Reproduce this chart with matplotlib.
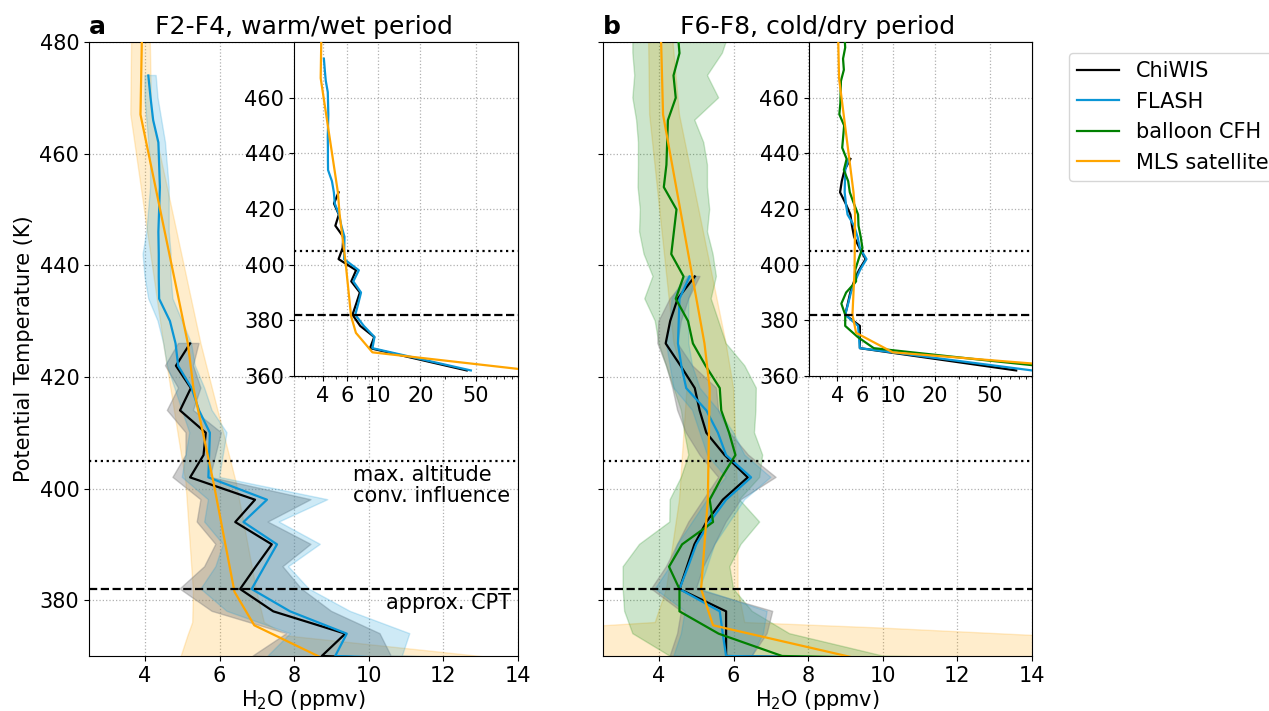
import numpy as np
import matplotlib
matplotlib.use('Agg')
import matplotlib.pyplot as plt
from matplotlib.ticker import FixedLocator, NullFormatter, ScalarFormatter, LogLocator
from matplotlib.lines import Line2D

plt.rcParams['font.family'] = ['DejaVu Sans']
plt.rcParams['font.size'] = 15

# ---------------- Panel a: F2-F4, warm/wet period ----------------
chi_a_theta = [426, 422, 418, 414, 410, 406, 402, 398, 394, 390, 386, 382, 378, 374, 370, 362]
chi_a_mean = [5.21, 4.83, 5.23, 4.94, 5.63, 5.57, 5.21, 6.95, 6.42, 7.40, 6.97, 6.55, 7.44, 9.37, 8.74, 43]
chi_a_lo = [4.9, 4.55, 4.9, 4.6, 5.1, 5.1, 4.75, 5.5, 5.4, 5.9, 5.6, 4.94, 5.8, 7.8, 6.9, 30]
chi_a_hi = [5.45, 5.3, 5.5, 5.3, 6.05, 5.9, 5.75, 8.45, 7.3, 8.45, 7.7, 8.2, 9.0, 10.3, 10.6, 60]

fla_a_theta = [474, 470, 466, 462, 458, 454, 450, 446, 442, 438, 434, 430, 426, 422, 418, 414,
               410, 406, 402, 398, 394, 390, 386, 382, 378, 374, 370, 362]
fla_a_mean = [4.09, 4.15, 4.22, 4.36, 4.38, 4.40, 4.38, 4.36, 4.37, 4.37, 4.38, 4.67, 4.82, 4.89,
              5.25, 5.45, 5.74, 5.72, 5.70, 7.27, 6.64, 7.54, 7.2, 6.86, 7.89, 9.41, 9.10, 46]
fla_a_lo = [4.0, 4.0, 4.05, 4.1, 4.15, 4.15, 4.1, 4.05, 3.95, 4.0, 4.1, 4.35, 4.5, 4.6, 4.8, 5.0,
            5.2, 5.1, 5.0, 5.7, 5.6, 6.1, 5.9, 5.5, 6.2, 7.9, 7.3, 35]
fla_a_hi = [4.3, 4.35, 4.45, 4.55, 4.6, 4.65, 4.65, 4.65, 4.7, 4.7, 4.75, 5.0, 5.25, 5.35, 5.6, 5.8,
            6.2, 6.1, 6.0, 8.9, 7.6, 8.7, 7.85, 8.4, 9.5, 11.1, 10.9, 60]

mls_a_theta = [485, 467, 426, 418, 401, 381.5, 375.5, 368.5, 362]
mls_a_mean = [3.93, 3.88, 5.15, 5.30, 5.84, 6.40, 6.93, 9.1, 125]
mls_a_band_theta = [485, 467, 426, 401, 381.5, 376, 373.6, 368.5, 362]
mls_a_lo = [3.65, 3.62, 4.5, 5.1, 5.3, 5.28, 5.15, 4.9, 4.5]
mls_a_hi = [4.13, 4.18, 5.5, 6.45, 7.0, 7.2, 7.8, 15.0, 40]

# ---------------- Panel b: F6-F8, cold/dry period ----------------
chi_b_theta = [438, 434, 430, 426, 422, 418, 414, 410, 406, 402, 398, 394, 390, 386, 382, 378, 374, 370, 362]
chi_b_mean = [4.96, 4.50, 4.30, 4.18, 4.58, 4.96, 5.09, 5.27, 5.76, 6.38, 5.71, 5.27, 4.95, 4.75,
              4.55, 5.80, 5.80, 5.80, 77]
chi_b_lo = [4.8, 4.3, 4.0, 3.97, 4.2, 4.37, 4.5, 4.73, 5.1, 5.6, 5.2, 4.8, 4.5, 4.2, 3.80, 4.6, 4.5, 4.3, 50]
chi_b_hi = [5.1, 4.8, 4.6, 4.5, 4.9, 5.54, 5.6, 5.9, 6.4, 7.14, 6.2, 5.8, 5.5, 5.2, 5.0, 7.05, 6.9, 6.5, 100]

fla_b_theta = [438, 434, 430, 426, 422, 418, 414, 410, 406, 402, 398, 394, 390, 386, 382, 378, 374, 370, 362]
fla_b_mean = [4.82, 4.55, 4.53, 4.51, 4.60, 4.73, 5.27, 5.58, 5.80, 6.47, 5.80, 5.36, 5.00, 4.78,
              4.55, 5.63, 5.71, 5.80, 100]
fla_b_lo = [4.7, 4.35, 4.3, 4.2, 4.3, 4.4, 4.9, 5.1, 5.3, 5.8, 5.3, 4.9, 4.5, 4.3, 3.9, 4.7, 4.6, 4.4, 70]
fla_b_hi = [5.0, 4.8, 4.8, 4.8, 4.9, 5.1, 5.6, 6.0, 6.3, 7.0, 6.3, 5.9, 5.5, 5.3, 5.1, 6.9, 6.8, 6.5, 130]

cfh_b_theta = [482, 478, 474, 470, 466, 462, 458, 454, 450, 446, 442, 438, 434, 430, 426, 422,
               418, 414, 410, 406, 402, 398, 394, 390, 386, 382, 378, 374, 370, 366, 362]
cfh_b_mean = [4.5, 4.55, 4.39, 4.45, 4.24, 4.22, 4.2, 4.13, 4.47, 4.40, 4.33, 4.66, 4.45, 4.78,
              4.91, 5.25, 5.63, 5.67, 5.88, 6.05, 5.68, 5.36, 5.45, 4.62, 4.27, 4.55, 4.55, 5.6,
              7.3, 40, 230]
cfh_b_lo = [3.3, 3.3, 3.35, 3.3, 3.4, 3.45, 3.45, 3.44, 3.5, 3.48, 3.6, 3.84, 3.62, 3.9, 4.0, 4.2,
            4.4, 4.6, 4.69, 4.8, 4.6, 4.3, 4.29, 3.48, 3.04, 3.04, 3.08, 3.3, 4.29, 8, 30]
cfh_b_hi = [5.9, 5.7, 5.3, 5.6, 4.96, 5.2, 5.3, 5.3, 5.36, 5.3, 5.45, 5.54, 5.4, 5.6, 5.8, 6.3,
            6.61, 6.6, 6.56, 6.78, 6.7, 6.16, 6.70, 6.2, 5.9, 6.0, 6.5, 7.5, 10.0, 40, 150]

mls_b_theta = [482, 467, 426, 418, 398, 382, 375.5, 368.5, 362]
mls_b_mean = [4.05, 4.11, 5.22, 5.36, 5.31, 5.13, 5.45, 10.0, 420]
mls_b_band_theta = [482, 467, 426, 418, 398, 382, 376, 375, 368.5, 362]
mls_b_lo = [3.72, 3.75, 4.4, 4.75, 4.55, 4.2, 3.9, 1.5, 0.0, 0.0]
mls_b_hi = [4.35, 4.55, 5.8, 6.0, 6.12, 6.12, 6.3, 10.0, 30.0, 100]

max_conv_theta = 405
cpt_theta = 382

c_chi = 'black'
c_fla = '#0a96d6'
c_cfh = 'green'
c_mls = 'orange'

fig = plt.figure(figsize=(12.69, 7.11), dpi=100)
W, H = 1269, 711
axa = fig.add_axes([89 / W, 55 / H, 429 / W, 614 / H])
axb = fig.add_axes([603 / W, 55 / H, 429 / W, 614 / H], sharey=axa)
insa = fig.add_axes([294 / W, 335 / H, 224 / W, 334 / H])
insb = fig.add_axes([809 / W, 335 / H, 223 / W, 334 / H])

lw = 1.6
fs = 15


def band(ax, th, lo, hi, color, alpha):
    ax.fill_betweenx(th, lo, hi, color=color, alpha=alpha, lw=1, zorder=1)


# Panel a main
band(axa, mls_a_band_theta, mls_a_lo, mls_a_hi, c_mls, 0.2)
band(axa, chi_a_theta, chi_a_lo, chi_a_hi, 'grey', 0.4)
band(axa, fla_a_theta, fla_a_lo, fla_a_hi, c_fla, 0.2)
axa.plot(chi_a_mean, chi_a_theta, color=c_chi, lw=lw, zorder=3)
axa.plot(fla_a_mean, fla_a_theta, color=c_fla, lw=lw, zorder=3)
axa.plot(mls_a_mean, mls_a_theta, color=c_mls, lw=lw, zorder=3)

# Panel b main
band(axb, mls_b_band_theta, mls_b_lo, mls_b_hi, c_mls, 0.2)
band(axb, cfh_b_theta, cfh_b_lo, cfh_b_hi, c_cfh, 0.2)
band(axb, chi_b_theta, chi_b_lo, chi_b_hi, 'grey', 0.4)
band(axb, fla_b_theta, fla_b_lo, fla_b_hi, c_fla, 0.2)
axb.plot(chi_b_mean, chi_b_theta, color=c_chi, lw=lw, zorder=3)
axb.plot(fla_b_mean, fla_b_theta, color=c_fla, lw=lw, zorder=3)
axb.plot(cfh_b_mean, cfh_b_theta, color=c_cfh, lw=lw, zorder=3)
axb.plot(mls_b_mean, mls_b_theta, color=c_mls, lw=lw, zorder=3)

# Insets
insa.plot(chi_a_mean, chi_a_theta, color=c_chi, lw=lw, zorder=3)
insa.plot(fla_a_mean, fla_a_theta, color=c_fla, lw=lw, zorder=3)
insa.plot(mls_a_mean, mls_a_theta, color=c_mls, lw=lw, zorder=3)
insb.plot(chi_b_mean, chi_b_theta, color=c_chi, lw=lw, zorder=3)
insb.plot(fla_b_mean, fla_b_theta, color=c_fla, lw=lw, zorder=3)
insb.plot(cfh_b_mean, cfh_b_theta, color=c_cfh, lw=lw, zorder=3)
insb.plot(mls_b_mean, mls_b_theta, color=c_mls, lw=lw, zorder=3)

for ax in (axa, axb):
    ax.set_xlim(2.5, 14)
    ax.set_ylim(370, 480)
    ax.set_xticks([4, 6, 8, 10, 12, 14])
    ax.set_yticks([380, 400, 420, 440, 460, 480])
    ax.grid(True, linestyle=':', color='#b0b0b0', lw=0.9)
    ax.set_axisbelow(True)
    ax.set_xlabel('H$_2$O (ppmv)', fontsize=fs, labelpad=2)
    ax.tick_params(labelsize=fs)
    ax.axhline(max_conv_theta, color='black', ls=':', lw=lw, zorder=4)
    ax.axhline(cpt_theta, color='black', ls='--', lw=lw, zorder=4)

axa.set_ylabel('Potential Temperature (K)', fontsize=fs)
plt.setp(axb.get_yticklabels(), visible=False)

for ins in (insa, insb):
    ins.set_xscale('log')
    ins.set_xlim(2.5, 100)
    ins.set_ylim(360, 480)
    ins.xaxis.set_major_locator(FixedLocator([4, 6, 10, 20, 50]))
    ins.xaxis.set_major_formatter(ScalarFormatter())
    ins.xaxis.set_minor_locator(LogLocator(base=10, subs=np.arange(2, 10)))
    ins.xaxis.set_minor_formatter(NullFormatter())
    ins.set_yticks([360, 380, 400, 420, 440, 460])
    ins.grid(True, which='major', linestyle=':', color='#b0b0b0', lw=0.9)
    ins.set_axisbelow(True)
    ins.tick_params(labelsize=fs)
    ins.axhline(max_conv_theta, color='black', ls=':', lw=lw, zorder=4)
    ins.axhline(cpt_theta, color='black', ls='--', lw=lw, zorder=4)

axa.text(13.8, 404.3, 'max. altitude\nconv. influence', ha='right', va='top', fontsize=fs,
         linespacing=1.1, multialignment='left')
axa.text(13.8, 381.2, 'approx. CPT', ha='right', va='top', fontsize=fs)

axa.set_title('a', loc='left', fontweight='bold', fontsize=18)
axa.set_title('F2-F4, warm/wet period', fontsize=18)
axb.set_title('b', loc='left', fontweight='bold', fontsize=18)
axb.set_title('F6-F8, cold/dry period', fontsize=18)

handles = [Line2D([], [], color=c_chi, lw=lw), Line2D([], [], color=c_fla, lw=lw),
           Line2D([], [], color=c_cfh, lw=lw), Line2D([], [], color=c_mls, lw=lw)]
labels = ['ChiWIS', 'FLASH', 'balloon CFH', 'MLS satellite']
fig.legend(handles, labels, loc='upper left', bbox_to_anchor=(1069 / W, 1 - 53 / H),
           fontsize=fs, borderaxespad=0)

fig.savefig('out.png', dpi=100)
